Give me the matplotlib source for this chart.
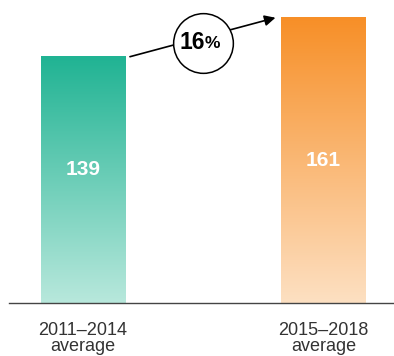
import numpy as np
import matplotlib.pyplot as plt
from matplotlib.colors import LinearSegmentedColormap

plt.rcParams['font.family'] = ['Liberation Sans', 'DejaVu Sans']

categories = ["2011\u20132014\naverage", "2015\u20132018\naverage"]
values = [139, 161]
change_label = "16"
top_colors = ["#20b393", "#f78f27"]
bottom_colors = ["#b8e8dc", "#fde0c2"]

W, H = 394, 356
fig = plt.figure(figsize=(W / 100, H / 100), dpi=100)
ax = fig.add_axes([9 / W, (H - 303) / H, 385 / W, 303 / H])

bar_w = 0.35
label_frac = [0.54, 0.5]  # where the value sits inside each bar
x = np.arange(len(values))

for xi, v, ct, cb, lf in zip(x, values, top_colors, bottom_colors, label_frac):
    cmap = LinearSegmentedColormap.from_list("g", [cb, ct])
    grad = np.linspace(0, 1, 256).reshape(-1, 1)
    ax.imshow(grad, cmap=cmap, origin='lower', aspect='auto',
              extent=[xi - bar_w / 2, xi + bar_w / 2, 0, v], zorder=1)
    ax.text(xi, v * lf, str(v), color='white', fontsize=15,
            fontweight='bold', ha='center', va='center', zorder=3)

# arrow between bar tops
ax.annotate("", xy=(x[1] - 0.2, values[1]), xytext=(x[0] + 0.195, values[0]),
            arrowprops=dict(arrowstyle="-|>", color='black', lw=1.2,
                            mutation_scale=16, shrinkA=0, shrinkB=0),
            zorder=4)
mid_x = (x[0] + x[1]) / 2
mid_y = (values[0] + values[1]) / 2 - 3
ax.plot(mid_x, mid_y, marker='o', markersize=43, markerfacecolor='white',
        markeredgecolor='black', markeredgewidth=1.1, zorder=5)
ax.annotate(change_label, (mid_x, mid_y), xytext=(1, 0), textcoords='offset points',
            ha='right', va='center', fontsize=16.5, fontweight='bold', zorder=6)
ax.annotate("%", (mid_x, mid_y), xytext=(1, -0.5), textcoords='offset points',
            ha='left', va='center', fontsize=12.5, fontweight='bold', zorder=6)

ax.set_xlim(-0.308, 1.293)
ax.set_ylim(0, 171)
ax.set_xticks(x)
ax.set_xticklabels(categories, fontsize=13, color='#333333', linespacing=0.9)
ax.tick_params(axis='x', length=0, pad=14)
ax.set_yticks([])
for s in ['top', 'right', 'left']:
    ax.spines[s].set_visible(False)
ax.spines['bottom'].set_color('#444444')
ax.spines['bottom'].set_linewidth(1.0)
ax.patch.set_alpha(0)

fig.savefig("out.png", dpi=100)
